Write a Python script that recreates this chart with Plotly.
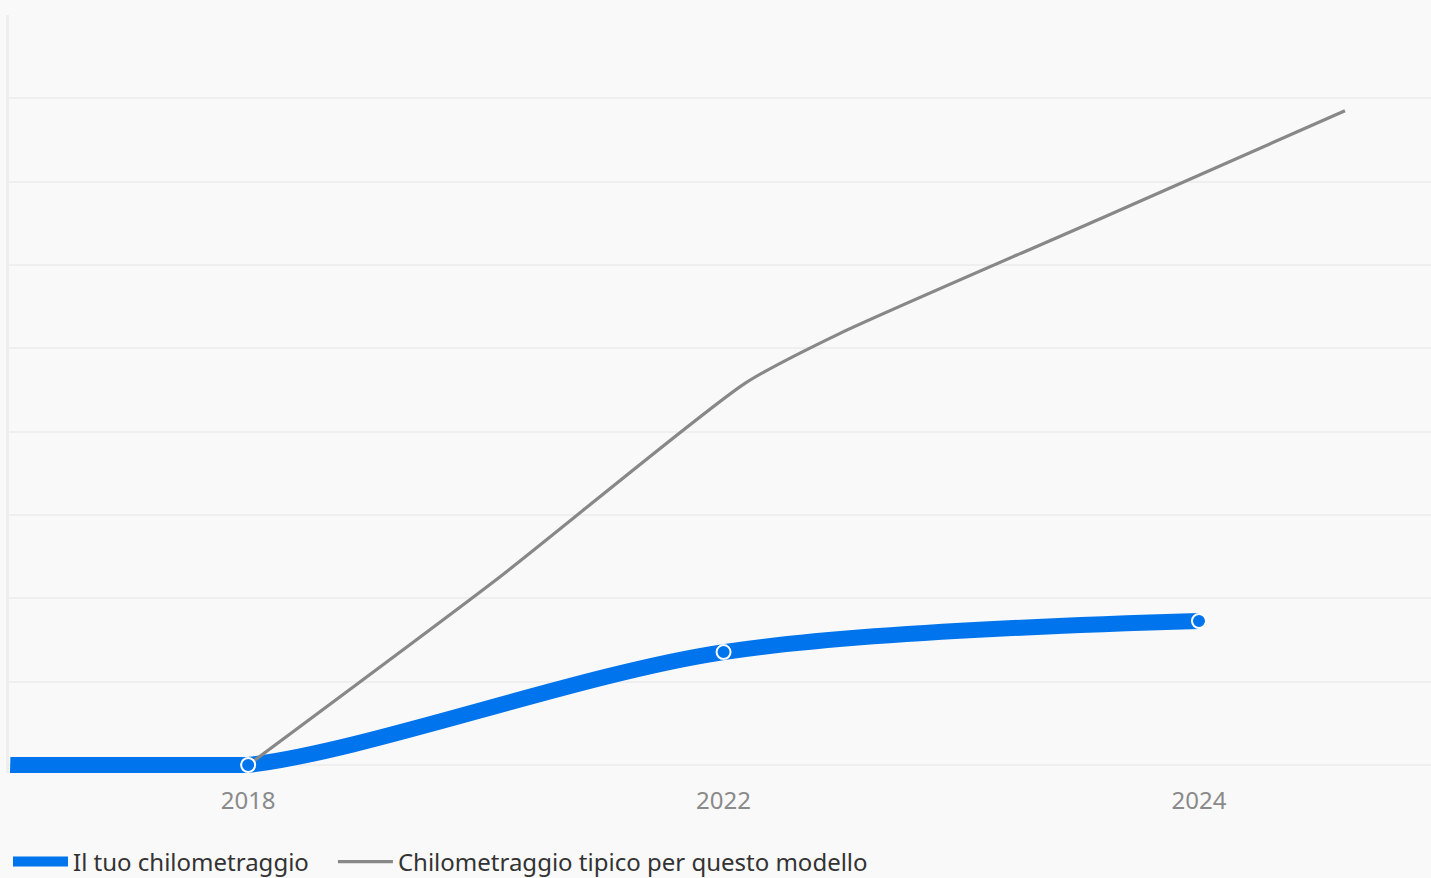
import plotly.graph_objects as go

# ---- data ----
year_labels = ["2018", "2022", "2024"]
year_pos = [0, 1, 2]

your_pos = [-0.5, 0, 1, 2]
your_km = [0, 0, 27100, 34560]

typical_pos = [0, 0.53, 1.045, 1.245, 1.79, 2.307]
typical_km = [0, 45200, 91600, 103600, 131000, 157000]

BLUE = "#0074ec"
GREY = "#888888"
BG = "#f9f9f9"
FONT = "Noto Sans"

fig = go.Figure()

# main series line (spline)
fig.add_trace(go.Scatter(
    x=your_pos, y=your_km, mode="lines",
    name="Il tuo chilometraggio", legend="legend",
    line=dict(color=BLUE, width=16, shape="spline", smoothing=0.9),
    hoverinfo="skip",
))
# flat lead-in (same series, straight)
fig.add_trace(go.Scatter(
    x=your_pos[:2], y=your_km[:2], mode="lines",
    showlegend=False,
    line=dict(color=BLUE, width=16),
    hoverinfo="skip",
))
fig.add_trace(go.Scatter(
    x=typical_pos, y=typical_km, mode="lines",
    name="Chilometraggio tipico per questo modello", legend="legend2",
    line=dict(color=GREY, width=3.2, shape="spline", smoothing=0.6),
    hoverinfo="skip",
))
fig.add_trace(go.Scatter(
    x=your_pos[1:], y=your_km[1:], mode="markers",
    showlegend=False,
    marker=dict(color=BLUE, size=14, line=dict(color="white", width=2)),
    cliponaxis=False, hoverinfo="skip",
))

legend_common = dict(
    orientation="h", xanchor="left",
    yref="container", y=0.0182, yanchor="middle",
    font=dict(family=FONT, size=24, color="#333333"),
    bgcolor="rgba(0,0,0,0)",
)

fig.update_layout(
    width=1431, height=878,
    paper_bgcolor=BG, plot_bgcolor=BG,
    margin=dict(l=9, r=0, t=15, b=105, autoexpand=False),
    font=dict(family=FONT, color="#333333"),
    showlegend=True,
    legend=dict(legend_common, x=-0.0007, itemwidth=55),
    legend2=dict(legend_common, x=0.2278, itemwidth=55),
    xaxis=dict(
        range=[-0.503, 2.488], tickmode="array", tickvals=year_pos, ticktext=year_labels,
        showgrid=False, zeroline=False, showline=False, ticks="",
        tickfont=dict(family=FONT, size=24, color="#8a8a8a"),
        ticklabelstandoff=11,
    ),
    yaxis=dict(
        range=[-1920, 180000], tick0=0, dtick=20000, showticklabels=False,
        gridcolor="#efefef", gridwidth=1.5, zeroline=False,
        showline=True, linecolor="#eeeeee", linewidth=3, ticks="",
    ),
)

fig.write_html(
    "out.html",
    config={"displayModeBar": False},
    post_script="document.body.style.margin='0';document.body.style.background='#f9f9f9';",
)
